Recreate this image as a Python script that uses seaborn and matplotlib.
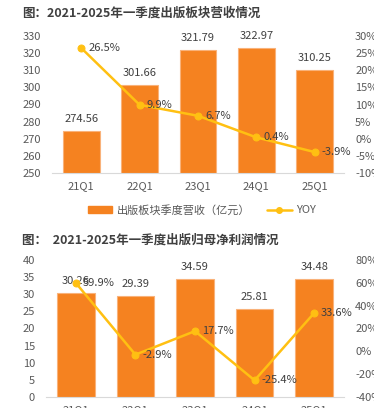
import matplotlib
matplotlib.use('Agg')
import matplotlib.pyplot as plt
import numpy as np
import pandas as pd
import seaborn as sns
from matplotlib.ticker import FuncFormatter
from matplotlib.lines import Line2D
from matplotlib.patches import Patch

# data
quarters = ['21Q1', '22Q1', '23Q1', '24Q1', '25Q1']
revenue = [274.56, 301.66, 321.79, 322.97, 310.25]
revenue_yoy = [26.5, 9.9, 6.7, 0.4, -3.9]
profit = [30.26, 29.39, 34.59, 25.81, 34.48]
profit_yoy = [59.9, -2.9, 17.7, -25.4, 33.6]

title1 = '图：2021-2025年一季度出版板块营收情况'
title2 = '图：  2021-2025年一季度出版归母净利润情况'
legend_bar = '出版板块季度营收（亿元）'
legend_line = 'YOY'

sns.set_style('white')
plt.rcParams['font.family'] = ['Noto Sans CJK SC', 'DejaVu Sans']

bar_color = '#F58220'
bar_edge = '#F9B27A'
line_color = '#FFC012'
tick_color = '#595959'
text_color = '#404040'

fig = plt.figure(figsize=(3.74, 4.08), dpi=100)


def draw_panel(rect, vals, yoy, ylim, yticks, y2lim, y2ticks):
    ax = fig.add_axes(rect)
    df = pd.DataFrame({'q': quarters, 'v': vals, 'yoy': yoy})
    sns.barplot(data=df, x='q', y='v', color=bar_color, width=0.63,
                edgecolor=bar_edge, linewidth=0.8, saturation=1, ax=ax)
    ax.set_ylim(*ylim)
    ax.set_yticks(yticks)
    ax.set_xlim(-0.5, 4.5)
    ax.set_xlabel('')
    ax.set_ylabel('')
    for s in ['top', 'right', 'left']:
        ax.spines[s].set_visible(False)
    ax.spines['bottom'].set_color('#D9D9D9')
    ax.tick_params(length=0, labelsize=8, colors=tick_color, pad=8)
    ax.tick_params(axis='x', pad=6)
    for i, v in enumerate(vals):
        ax.annotate('%.2f' % v, (i, v), xytext=(0, 5), textcoords='offset points',
                    ha='center', va='bottom', fontsize=8, color=text_color)

    ax2 = ax.twinx()
    sns.lineplot(x=np.arange(len(quarters)), y=yoy, ax=ax2, color=line_color,
                 marker='o', markersize=5, markeredgecolor=line_color, linewidth=1.8)
    ax2.set_ylim(*y2lim)
    ax2.set_yticks(y2ticks)
    ax2.yaxis.set_major_formatter(FuncFormatter(lambda x, p: '%d%%' % x))
    for s in ['top', 'right', 'left', 'bottom']:
        ax2.spines[s].set_visible(False)
    ax2.tick_params(length=0, labelsize=8, colors=tick_color, pad=8)
    for i, v in enumerate(yoy):
        ax2.annotate('%.1f%%' % v, (i, v), xytext=(5, 0), textcoords='offset points',
                     ha='left', va='center', fontsize=8, color=text_color)
    return ax, ax2


ax_a, _ = draw_panel([52 / 374, 1 - 173 / 408, 292 / 374, 137 / 408], revenue, revenue_yoy,
                     (250, 330), range(250, 331, 10), (-10, 30), range(-10, 31, 5))
ax_b, _ = draw_panel([46 / 374, 1 - 397 / 408, 298 / 374, 137 / 408], profit, profit_yoy,
                     (0, 40), range(0, 41, 5), (-40, 80), range(-40, 81, 20))

fig.text(22 / 374, 1 - 13 / 408, title1, fontsize=9, fontweight='bold', color=text_color,
         va='center', ha='left')
fig.text(22 / 374, 1 - 240 / 408, title2, fontsize=9, fontweight='bold', color=text_color,
         va='center', ha='left')

handles = [Patch(color=bar_color), Line2D([0], [0], color=line_color, marker='o',
                                              markersize=4, linewidth=1.8)]
fig.legend(handles, [legend_bar, legend_line], loc='center', ncol=2, frameon=False,
           bbox_to_anchor=(0.54, 1 - 210 / 408), fontsize=8, labelcolor=tick_color,
           handlelength=2.2, columnspacing=1.5, handletextpad=0.4)

fig.savefig('out.png', dpi=100)
